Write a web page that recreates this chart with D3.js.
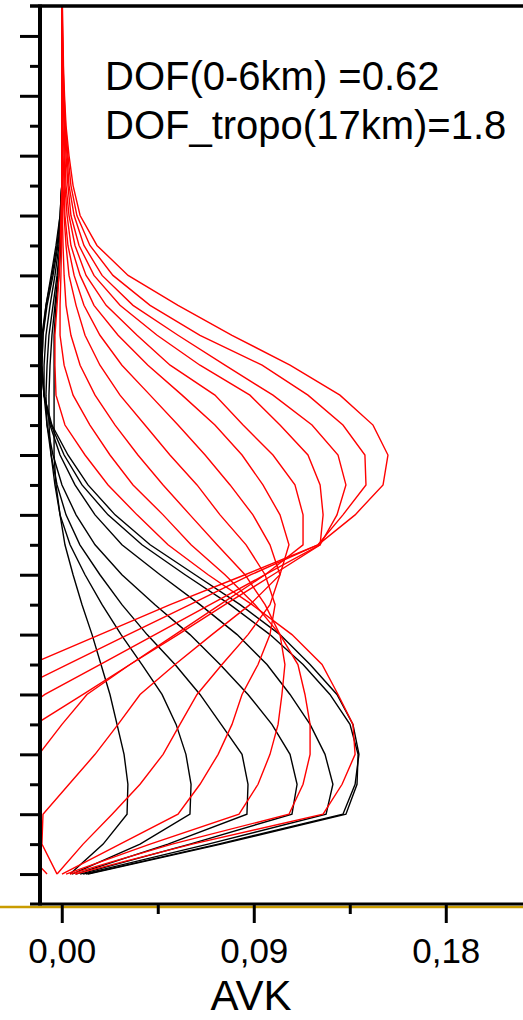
<!DOCTYPE html>
<html>
<head>
<meta charset="utf-8">
<script src="https://cdn.jsdelivr.net/npm/d3@7/dist/d3.min.js"></script>
<style>
  html, body { margin: 0; padding: 0; background: #ffffff; }
  svg { display: block; }
</style>
</head>
<body>
<svg id="chart" width="523" height="1020"></svg>
<script>
// Retrieval levels (km)
const altitudes = [0,1,2,3,4,5,6,7,8,9,10,11,12,13,14,15,16,17,18,19,20,21,22,23,24,25,26,27,28,29];

// Averaging-kernel rows for the 0-6 km levels (drawn in black)
const kernelRow0 = [0.0039,0.0194,0.0306,0.0310,0.0292,0.0259,0.0226,0.0184,0.0142,0.0095,0.0053,0.0015,-0.0008,-0.0027,-0.0036,-0.0036,-0.0036,-0.0036,-0.0036,-0.0027,-0.0013,-0.0004,-0.0001,0,0,0,0,0,0,0];
const kernelRow1 = [0.0048,0.0367,0.0601,0.0606,0.0582,0.0536,0.0470,0.0376,0.0278,0.0189,0.0109,0.0039,-0.0008,-0.0032,-0.0050,-0.0060,-0.0060,-0.0055,-0.0046,-0.0032,-0.0018,-0.0008,-0.0004,0,0,0,0,0,0,0];
const kernelRow2 = [0.0067,0.0498,0.0868,0.0873,0.0845,0.0747,0.0648,0.0531,0.0400,0.0282,0.0179,0.0085,0.0020,-0.0022,-0.0050,-0.0069,-0.0074,-0.0069,-0.0060,-0.0041,-0.0022,-0.0008,-0.0004,0,0,0,0,0,0,0];
const kernelRow3 = [0.0086,0.0601,0.1079,0.1103,0.1070,0.0985,0.0873,0.0742,0.0601,0.0437,0.0282,0.0156,0.0067,0.0001,-0.0041,-0.0069,-0.0083,-0.0083,-0.0074,-0.0055,-0.0032,-0.0013,-0.0004,0,0,0,0,0,0,0];
const kernelRow4 = [0.0100,0.0686,0.1239,0.1271,0.1234,0.1164,0.1070,0.0962,0.0822,0.0648,0.0461,0.0282,0.0156,0.0062,-0.0008,-0.0055,-0.0083,-0.0093,-0.0088,-0.0069,-0.0041,-0.0018,-0.0004,0,0,0,0,0,0,0];
const kernelRow5 = [0.0114,0.0733,0.1318,0.1375,0.1393,0.1365,0.1290,0.1164,0.1023,0.0836,0.0625,0.0414,0.0250,0.0123,0.0029,-0.0046,-0.0083,-0.0097,-0.0093,-0.0074,-0.0046,-0.0022,-0.0008,0,0,0,0,0,0,0];
const kernelRow6 = [0.0123,0.0747,0.1332,0.1384,0.1389,0.1351,0.1257,0.1131,0.0976,0.0789,0.0578,0.0376,0.0217,0.0095,0.0011,-0.0050,-0.0083,-0.0093,-0.0088,-0.0074,-0.0050,-0.0027,-0.0008,0,0,0,0,0,0,0];

// Averaging-kernel rows for the upper levels (drawn in red)
const kernelRow7  = [0.0062,0.0611,0.1225,0.1314,0.1375,0.1365,0.1295,0.1220,0.1079,0.0892,0.0686,0.0498,0.0353,0.0217,0.0109,0.0015,-0.0027,-0.0032,-0.0032,-0.0022,-0.0013,-0.0008,-0.0004,0,0,0,0,0,0,0];
const kernelRow8  = [0.0039,0.0517,0.1065,0.1131,0.1164,0.1164,0.1140,0.1107,0.1023,0.0906,0.0765,0.0606,0.0475,0.0334,0.0226,0.0132,0.0053,0.0011,-0.0008,-0.0008,-0.0004,-0.0001,0,0,0,0,0,0,0,0];
const kernelRow9  = [0.0020,0.0414,0.0831,0.0920,0.0976,0.1014,0.1032,0.1046,0.1023,0.0953,0.0859,0.0728,0.0601,0.0475,0.0357,0.0250,0.0156,0.0086,0.0043,0.0020,0.0011,0.0006,0.0003,0.0002,0.0001,0.0001,0.0001,0,0,0];
const kernelRow10 = [0.0001,0.0273,0.0545,0.0648,0.0733,0.0798,0.0845,0.0920,0.0976,0.1000,0.0953,0.0864,0.0742,0.0634,0.0507,0.0390,0.0273,0.0179,0.0109,0.0067,0.0034,0.0020,0.0011,0.0006,0.0003,0.0002,0.0001,0.0001,0,0];
const kernelRow11 = [-0.0022,0.0100,0.0236,0.0367,0.0475,0.0554,0.0634,0.0751,0.0873,0.0976,0.1023,0.0976,0.0896,0.0789,0.0672,0.0545,0.0414,0.0282,0.0179,0.0104,0.0058,0.0029,0.0015,0.0011,0.0006,0.0003,0.0002,0.0001,0.0001,0.0001];
const kernelRow12 = [-0.0022,-0.0093,-0.0088,0.0034,0.0156,0.0264,0.0367,0.0531,0.0704,0.0882,0.1023,0.1065,0.1023,0.0943,0.0845,0.0718,0.0564,0.0404,0.0264,0.0151,0.0086,0.0043,0.0025,0.0015,0.0011,0.0006,0.0003,0.0002,0.0002,0.0001];
const kernelRow13 = [-0.0069,-0.020,-0.022,-0.018,-0.0107,0.0001,0.0118,0.0320,0.0531,0.0742,0.0953,0.1131,0.1131,0.1093,0.0990,0.0850,0.0718,0.0508,0.0353,0.0208,0.0114,0.0062,0.0034,0.0020,0.0015,0.0011,0.0006,0.0003,0.0002,0.0002];
const kernelRow14 = [-0.025,-0.030,-0.034,-0.035,-0.030,-0.0125,0.0100,0.0320,0.0545,0.0765,0.0990,0.1211,0.1225,0.1211,0.1154,0.1023,0.0882,0.0648,0.0447,0.0273,0.0151,0.0081,0.0043,0.0029,0.0020,0.0013,0.0006,0.0003,0.0002,0.0002];
const kernelRow15 = [-0.030,-0.035,-0.040,-0.042,-0.040,-0.0275,-0.0079,0.0179,0.0437,0.0695,0.0953,0.1211,0.1290,0.1332,0.1295,0.1173,0.0990,0.0765,0.0545,0.0334,0.0189,0.0104,0.0058,0.0034,0.0025,0.0015,0.0008,0.0006,0.0003,0.0002];
const kernelRow16 = [-0.025,-0.032,-0.038,-0.040,-0.040,-0.035,-0.0257,0.0025,0.0311,0.0601,0.0887,0.1201,0.1318,0.1426,0.1421,0.1318,0.1154,0.0939,0.0648,0.0414,0.0240,0.0132,0.0071,0.0043,0.0029,0.0018,0.0011,0.0006,0.0003,0.0002];
const kernelRow17 = [-0.020,-0.025,-0.030,-0.032,-0.034,-0.034,-0.030,-0.0149,0.0179,0.0508,0.0859,0.1201,0.1375,0.1506,0.1529,0.1459,0.1304,0.1070,0.0798,0.0545,0.0311,0.0165,0.0086,0.0053,0.0034,0.0020,0.0013,0.0008,0.0006,0.0003];

const blackRows = [kernelRow0, kernelRow1, kernelRow2, kernelRow3, kernelRow4, kernelRow5, kernelRow6];
const redRows = [kernelRow7, kernelRow8, kernelRow9, kernelRow10, kernelRow11, kernelRow12,
                 kernelRow13, kernelRow14, kernelRow15, kernelRow16, kernelRow17];

// Axis ticks and labels
const xMajorTicks = [0, 0.09, 0.18];
const xMinorTicks = [0.045, 0.135];
const yMajorTicks = [0,2,4,6,8,10,12,14,16,18,20,22,24,26,28];
const yMinorTicks = [1,3,5,7,9,11,13,15,17,19,21,23,25,27];
const xTitle = "AVK";
const dofText = ["DOF(0-6km) =0.62", "DOF_tropo(17km)=1.8"];

const FONT = "'Liberation Sans', Arial, Helvetica, sans-serif";

const svg = d3.select("#chart");
svg.append("rect").attr("width", 523).attr("height", 1020).attr("fill", "#ffffff");

const plot = { left: 40, right: 523, top: 6, bottom: 904 };

const x = d3.scaleLinear().domain([-0.0102, 0.2162]).range([plot.left, plot.right]);
const y = d3.scaleLinear().domain([-1, 29]).range([plot.bottom, plot.top]);

// clip the kernels to the frame
svg.append("defs").append("clipPath").attr("id", "frame")
  .append("rect")
  .attr("x", plot.left).attr("y", plot.top)
  .attr("width", plot.right - plot.left).attr("height", plot.bottom - plot.top);

const line = d3.line()
  .x(d => x(d[0]))
  .y(d => y(d[1]));

const curves = svg.append("g").attr("clip-path", "url(#frame)");

function drawRows(rows, colour) {
  curves.append("g")
    .selectAll("path")
    .data(rows)
    .join("path")
    .attr("d", row => line(row.map((v, i) => [v, altitudes[i]])))
    .attr("fill", "none")
    .attr("stroke", colour)
    .attr("stroke-width", 1.4)
    .attr("stroke-linejoin", "miter");
}
drawRows(blackRows, "#000000");
drawRows(redRows, "#ff0000");

// ochre baseline under the x axis
svg.append("line")
  .attr("x1", 0).attr("x2", 523)
  .attr("y1", plot.bottom + 3).attr("y2", plot.bottom + 3)
  .attr("stroke", "#c99c00").attr("stroke-width", 2.5);

// frame lines (top and bottom run a little past the left axis)
svg.append("line")
  .attr("x1", plot.left - 10).attr("x2", plot.right)
  .attr("y1", plot.top).attr("y2", plot.top)
  .attr("stroke", "#000").attr("stroke-width", 3.5);
svg.append("line")
  .attr("x1", plot.left - 10).attr("x2", plot.right)
  .attr("y1", plot.bottom).attr("y2", plot.bottom)
  .attr("stroke", "#000").attr("stroke-width", 3);

// left (altitude) axis, ticks only
function styleAxis(g) {
  g.selectAll(".tick line").attr("stroke", "#000").attr("stroke-width", 3);
  g.select(".domain").remove();
}
svg.append("g")
  .attr("transform", `translate(${plot.left},0)`)
  .call(d3.axisLeft(y).tickValues(yMajorTicks).tickSize(20).tickFormat(""))
  .call(styleAxis);
svg.append("g")
  .attr("transform", `translate(${plot.left},0)`)
  .call(d3.axisLeft(y).tickValues(yMinorTicks).tickSize(10).tickFormat(""))
  .call(styleAxis);
svg.append("line")
  .attr("x1", plot.left).attr("x2", plot.left)
  .attr("y1", plot.top - 1.5).attr("y2", plot.bottom + 1.5)
  .attr("stroke", "#000").attr("stroke-width", 4);

// bottom (AVK) axis
const xMajor = svg.append("g")
  .attr("transform", `translate(0,${plot.bottom})`)
  .call(d3.axisBottom(x).tickValues(xMajorTicks).tickSize(19).tickPadding(15)
        .tickFormat(d => d3.format(".2f")(d).replace(".", ",")))
  .call(styleAxis);
xMajor.selectAll(".tick text")
  .attr("fill", "#000")
  .style("font-family", FONT)
  .style("font-size", "35px");
svg.append("g")
  .attr("transform", `translate(0,${plot.bottom})`)
  .call(d3.axisBottom(x).tickValues(xMinorTicks).tickSize(10).tickFormat(""))
  .call(styleAxis);

svg.append("text")
  .attr("x", 251).attr("y", 1010)
  .attr("text-anchor", "middle")
  .style("font-family", FONT).style("font-size", "42px")
  .attr("fill", "#000")
  .text(xTitle);

// degrees-of-freedom annotation
svg.append("g").selectAll("text")
  .data(dofText)
  .join("text")
  .attr("x", 105)
  .attr("y", (d, i) => 90 + i * 49)
  .style("font-family", FONT).style("font-size", "40px")
  .attr("fill", "#000")
  .text(d => d);
</script>
</body>
</html>
